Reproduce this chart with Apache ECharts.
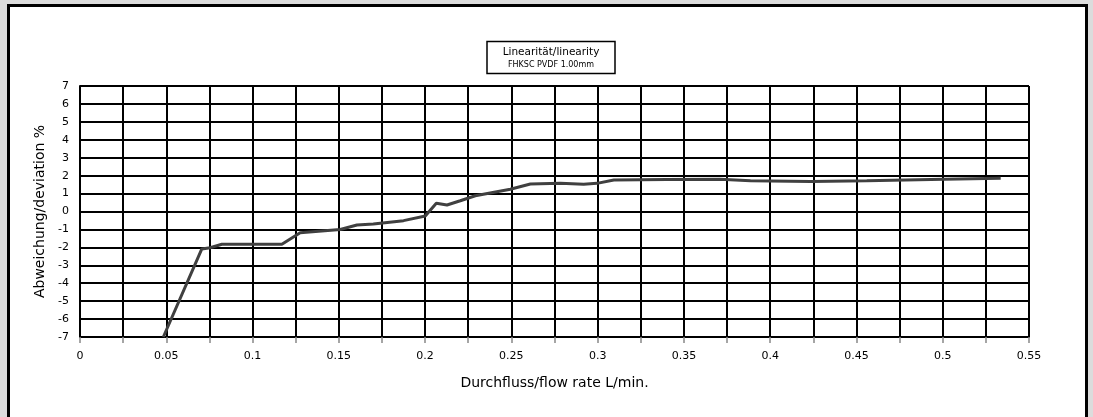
<!DOCTYPE html>
<html>
<head>
<meta charset="utf-8">
<script src="https://cdn.jsdelivr.net/npm/echarts@6/dist/echarts.min.js"></script>
<style>
html,body{margin:0;padding:0;background:#dcdcdc;}
#c{width:1093px;height:417px;}
</style>
</head>
<body>
<div id="c"></div>
<script>
const flowRate = [0.0483,0.0706,0.0754,0.0822,0.117,0.1276,0.1508,0.1605,0.170,0.1875,0.2001,0.2065,0.2127,0.2204,0.2291,0.2494,0.261,0.2784,0.2919,0.2996,0.3094,0.340,0.371,0.3886,0.4234,0.456,0.5006,0.5336];
const deviation = [-7,-2.09,-2.02,-1.83,-1.83,-1.18,-1.0,-0.75,-0.70,-0.51,-0.25,0.46,0.36,0.6,0.88,1.24,1.53,1.57,1.52,1.57,1.76,1.78,1.8,1.72,1.68,1.72,1.8,1.85];
const titleText = 'Linearität/linearity';
const subTitleText = 'FHKSC PVDF 1.00mm';
const xName = 'Durchfluss/flow rate L/min.';
const yName = 'Abweichung/deviation %';

const FONT = 'DejaVu Sans';
const chart = echarts.init(document.getElementById('c'));
chart.setOption({
  backgroundColor: '#dcdcdc',
  animation: false,
  graphic: [{
    type: 'rect', z: -10,
    shape: {x: 8.5, y: 5.5, width: 1078, height: 420},
    style: {fill: '#fff', stroke: '#000', lineWidth: 3}
  }, {
    type: 'rect', z: 10,
    shape: {x: 487, y: 41.5, width: 128, height: 32},
    style: {fill: '#fff', stroke: '#000', lineWidth: 1.5}
  }, {
    type: 'text', z: 11, x: 551, y: 52,
    style: {text: titleText, fill: '#000', font: '10.5px "DejaVu Sans"', textAlign: 'center', textVerticalAlign: 'middle'}
  }, {
    type: 'text', z: 11, x: 551, y: 65,
    style: {text: subTitleText, fill: '#000', font: '8px "DejaVu Sans"', textAlign: 'center', textVerticalAlign: 'middle'}
  }],
  grid: {left: 80, right: 64, top: 86, bottom: 80},
  xAxis: {
    type: 'value', min: 0, max: 0.55, interval: 0.025,
    name: xName, nameLocation: 'middle', nameGap: 39,
    nameTextStyle: {fontFamily: FONT, fontSize: 14, color: '#000'},
    axisLine: {show: true, onZero: false, lineStyle: {color: '#000', width: 2}},
    axisTick: {show: true, length: 6, lineStyle: {color: '#888', width: 1.5}},
    axisLabel: {
      fontFamily: FONT, fontSize: 11, color: '#000', margin: 14,
      formatter: function (v) {
        const m = Math.round(v * 1000);
        if (m % 50 !== 0) return '';
        return String(Math.round(v * 100) / 100);
      }
    },
    splitLine: {show: true, lineStyle: {color: '#000', width: 2}}
  },
  yAxis: {
    type: 'value', min: -7, max: 7, interval: 1,
    name: yName, nameLocation: 'middle', nameGap: 33,
    nameTextStyle: {fontFamily: FONT, fontSize: 14, color: '#000'},
    axisLine: {show: true, onZero: false, lineStyle: {color: '#000', width: 2}},
    axisTick: {show: false},
    axisLabel: {fontFamily: FONT, fontSize: 11, color: '#000', margin: 11},
    splitLine: {show: true, lineStyle: {color: '#000', width: 2}}
  },
  series: [{
    type: 'line',
    data: flowRate.map((x, i) => [x, deviation[i]]),
    showSymbol: false,
    clip: true,
    lineStyle: {color: '#404040', width: 3},
    z: 5
  }]
});
</script>
</body>
</html>
